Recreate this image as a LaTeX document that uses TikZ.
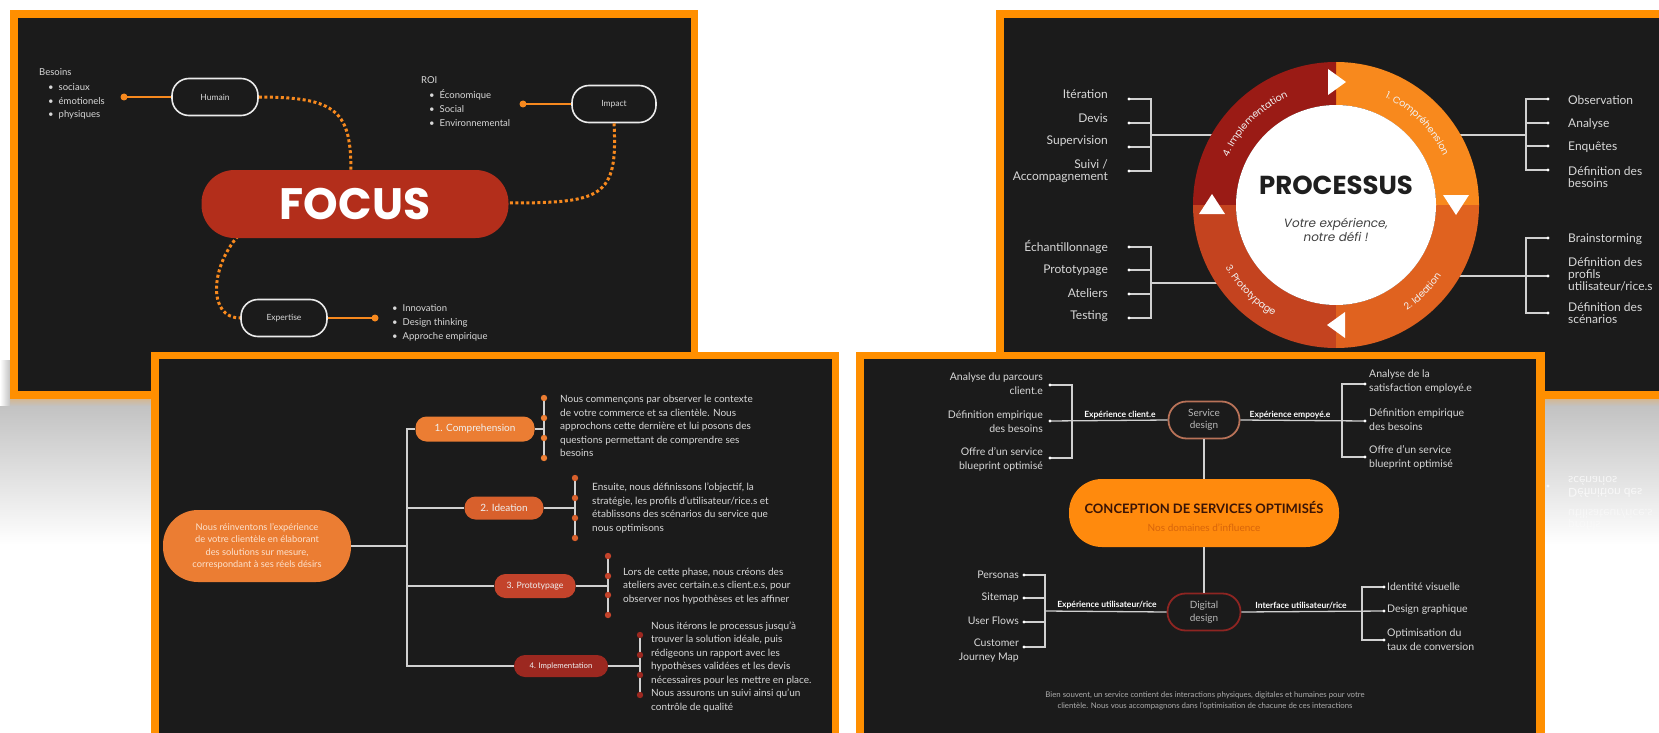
\documentclass[tikz,border=0pt]{standalone}
\usepackage{fontspec}
\setmainfont{Lato}
\newfontfamily\popfont{Poppins}
\usetikzlibrary{decorations.text}

\definecolor{bord}{HTML}{FF8F00}
\definecolor{panel}{HTML}{1B1B1B}
\definecolor{txt}{HTML}{D8D8D8}
\definecolor{lineg}{HTML}{D0D0D0}
\definecolor{orng}{HTML}{F7891E}
\definecolor{focusred}{HTML}{B32E1B}
\definecolor{qone}{HTML}{F8891D}
\definecolor{qtwo}{HTML}{E0621F}
\definecolor{qthree}{HTML}{C4431F}
\definecolor{qfour}{HTML}{9A1B15}
\definecolor{pcomp}{HTML}{EB7D33}
\definecolor{pidea}{HTML}{D8602C}
\definecolor{pproto}{HTML}{C3432B}
\definecolor{pimpl}{HTML}{9C2820}
\definecolor{peach}{HTML}{FCE2CE}
\definecolor{conc}{HTML}{FF8A0D}
\definecolor{concdark}{HTML}{3A1406}
\definecolor{concsub}{HTML}{D8650A}
\definecolor{sdline}{HTML}{B87258}
\definecolor{ddline}{HTML}{8E2522}
\definecolor{gshade}{HTML}{C2C2C2}
\definecolor{tanshade}{HTML}{D4B792}

\tikzset{
  wl/.style={draw=lineg, line width=1.3pt},
  wlthick/.style={draw=lineg, line width=1.8pt},
  olink/.style={draw=orng, line width=1.3pt},
  dotc/.style={draw=orng, line width=3pt, dash pattern=on 3pt off 2.5pt},
  lt/.style={text=txt, inner sep=0pt, font=\fontsize{9.5}{11}\selectfont},
  p1box/.style={draw=white!92!black, line width=1.6pt, fill=panel, rounded corners=17pt,
    minimum height=37pt, text=txt, font=\fontsize{8.5}{10}\selectfont},
  focusbox/.style={fill=focusred, rounded corners=33pt, minimum width=307pt, minimum height=68pt,
    text=white, inner sep=0pt, font=\popfont\bfseries\fontsize{44}{44}\selectfont},
  ltwo/.style={text=txt, inner sep=0pt, font=\fontsize{12}{12}\selectfont},
  p3main/.style={fill=pcomp, rounded corners=35pt, minimum width=188pt, minimum height=72pt,
    text=peach, align=center, inner sep=0pt, font=\fontsize{9.3}{12.5}\selectfont},
  p3node/.style={rounded corners=11pt, text=white!94!black, inner sep=0pt, font=\fontsize{10}{11}\selectfont},
  p3txt/.style={text=txt, align=left, inner sep=0pt, font=\fontsize{10}{13.5}\selectfont},
  lfour/.style={text=txt, inner sep=0pt, font=\fontsize{10.5}{14}\selectfont},
  bfour/.style={text=white, inner sep=1pt, font=\bfseries\fontsize{8.5}{10}\selectfont},
  dnode/.style={line width=1.8pt, fill=panel, rounded corners=18pt, text=white!72!black,
    align=center, inner sep=0pt, font=\fontsize{10}{12.5}\selectfont},
  refl/.style={text=white, opacity=0.7, yscale=-1, anchor=west, inner sep=0pt,
    font=\fontsize{12}{12}\selectfont},
  ringtxt/.style={decorate, decoration={text along path, text align=center, text color=white!95!black,
    text={|\popfont\fontsize{9.5}{11}\selectfont|#1}}}
}

\begin{document}
\begin{tikzpicture}[x=1pt, y=-1pt]
\useasboundingbox (0,0) rectangle (1659,733);
\clip (0,0) rectangle (1659,733);
\fill[white] (0,0) rectangle (1659,733);

% soft grey reflections under the two upper boards
\shade[top color=gshade, bottom color=white] (0,405) rectangle (698,545);
\shade[top color=gshade, bottom color=white] (996,405) rectangle (1659,545);
\shade[top color=tanshade, bottom color=gshade] (10,399) rectangle (698,406);
\shade[top color=tanshade, bottom color=gshade] (996,399) rectangle (1659,406);
\shade[left color=white, right color=gshade] (0,360) rectangle (10,405);

% ================= board 1 : FOCUS =================
\fill[bord] (10,10) rectangle (698,399);
\fill[panel] (18,18) rectangle (691,391);

\node[p1box, minimum width=86pt] (hum) at (215,97) {Humain};
\node[p1box, minimum width=84pt] (imp) at (614,104) {Impact};
\node[p1box, minimum width=86pt] (exp) at (284,318) {Expertise};

\coordinate (focusT) at (351,172);
\coordinate (focusR) at (507,203);
\coordinate (focusBL) at (238,236);
\draw[dotc] (hum.east) .. controls (338,97) and (351,112) .. (focusT);
\draw[dotc] (imp.south) .. controls (618,198) and (602,203) .. (focusR);
\draw[dotc] (focusBL) .. controls (210,268) and (208,318) .. (exp.west);

\node[focusbox] (focus) at (355,204) {FOCUS};

\node[lt, anchor=west] (besT) at (39,72) {Besoins};
\node[lt, anchor=west] (bes1) at (48,87) {\textbullet\hspace{5pt}sociaux};
\node[lt, anchor=west] (bes2) at (48,101) {\textbullet\hspace{5pt}émotionels};
\node[lt, anchor=west] (bes3) at (48,115) {\textbullet\hspace{5pt}physiques};
\coordinate (humDot) at (124,97);
\draw[olink] (humDot) -- (hum.west);
\fill[orng] (humDot) circle (3.5);

\node[lt, anchor=west] (roiT) at (421,80) {ROI};
\node[lt, anchor=west] (roi1) at (429,95) {\textbullet\hspace{5pt}Économique};
\node[lt, anchor=west] (roi2) at (429,109) {\textbullet\hspace{5pt}Social};
\node[lt, anchor=west] (roi3) at (429,123) {\textbullet\hspace{5pt}Environnemental};
\coordinate (impDot) at (523,104);
\draw[olink] (impDot) -- (imp.west);
\fill[orng] (impDot) circle (3.5);

\node[lt, anchor=west] (exp1) at (392,308) {\textbullet\hspace{5pt}Innovation};
\node[lt, anchor=west] (exp2) at (392,323) {\textbullet\hspace{5pt}Design thinking};
\node[lt, anchor=west] (exp3) at (392,337) {\textbullet\hspace{5pt}Approche empirique};
\coordinate (expDot) at (375,318);
\draw[olink] (exp.east) -- (expDot);
\fill[orng] (expDot) circle (3.5);

% ================= board 2 : PROCESSUS =================
\fill[bord] (996,10) rectangle (1670,399);
\fill[panel] (1004,18) rectangle (1670,391);

% connectors from the ring to the four brackets
\coordinate (ltr) at (1213,135);  \coordinate (ltj) at (1151,135);
\coordinate (rtr) at (1459,135);  \coordinate (rtj) at (1526,135);
\coordinate (lbr) at (1217,283);  \coordinate (lbj) at (1151,283);
\coordinate (rbr) at (1459,276);  \coordinate (rbj) at (1526,276);
\coordinate (lt1) at (1129,99);  \coordinate (lt2) at (1129,123);
\coordinate (lt3) at (1129,147); \coordinate (lt4) at (1129,171);
\coordinate (rt1) at (1548,99);  \coordinate (rt2) at (1548,123);
\coordinate (rt3) at (1548,146); \coordinate (rt4) at (1548,170);
\coordinate (lb1) at (1129,247); \coordinate (lb2) at (1129,270);
\coordinate (lb3) at (1129,294); \coordinate (lb4) at (1129,318);
\coordinate (rb1) at (1548,238); \coordinate (rb2) at (1548,276);
\coordinate (rb3) at (1548,313);

\draw[wl] (ltr) -- (ltj);
\draw[wl] (rtr) -- (rtj);
\draw[wl] (lbr) -- (lbj);
\draw[wl] (rbr) -- (rb2);
\foreach \p in {lt1,lt2,lt3,lt4} {\draw[wl] (\p) -| (ltj); \fill[white] (\p) circle (1.6);}
\foreach \p in {rt1,rt2,rt3,rt4} {\draw[wl] (\p) -| (rtj); \fill[white] (\p) circle (1.6);}
\foreach \p in {lb1,lb2,lb3,lb4} {\draw[wl] (\p) -| (lbj); \fill[white] (\p) circle (1.6);}
\foreach \p in {rb1,rb3} {\draw[wl] (\p) -| (rbj);}
\foreach \p in {rb1,rb2,rb3} {\fill[white] (\p) circle (1.6);}

\begin{scope}[shift={(1336,205)}, y=1pt]
  \fill[qone]   (0:143) arc[start angle=0, end angle=90, radius=143] -- (90:100) arc[start angle=90, end angle=0, radius=100] -- cycle;
  \fill[qfour]  (90:143) arc[start angle=90, end angle=180, radius=143] -- (180:100) arc[start angle=180, end angle=90, radius=100] -- cycle;
  \fill[qthree] (180:143) arc[start angle=180, end angle=270, radius=143] -- (270:100) arc[start angle=270, end angle=180, radius=100] -- cycle;
  \fill[qtwo]   (270:143) arc[start angle=270, end angle=360, radius=143] -- (0:100) arc[start angle=360, end angle=270, radius=100] -- cycle;
  \fill[white] (0,0) circle (100);
  % direction arrows between the phases
  \fill[white] (-8,136) -- (-8,110) -- (10,123) -- cycle;
  \fill[white] (107,10) -- (133,10) -- (120,-10) -- cycle;
  \fill[white] (9,-107) -- (9,-133) -- (-9,-120) -- cycle;
  \fill[white] (-137,-9) -- (-111,-9) -- (-124,11) -- cycle;
  % phase names along the ring
  \path[ringtxt={1. Compréhension}] (85:118) arc[start angle=85, end angle=5, radius=118];
  \path[ringtxt={2. Ideation}] (-85:127) arc[start angle=-85, end angle=-5, radius=127];
  \path[ringtxt={3. Prototypage}] (185:127) arc[start angle=185, end angle=265, radius=127];
  \path[ringtxt={4. Implementation}] (175:118) arc[start angle=175, end angle=95, radius=118];
  \node[font=\popfont\bfseries\fontsize{26}{30}\selectfont, text=black!88] (proc) at (0,20) {PROCESSUS};
  \node[font=\popfont\itshape\fontsize{12}{13.5}\selectfont, text=black!75, align=center] (motto) at (0,-25) {Votre expérience,\\notre défi !};
\end{scope}

\node[ltwo, anchor=east] (it) at (1108,94) {Itération};
\node[ltwo, anchor=east] (dv) at (1108,118) {Devis};
\node[ltwo, anchor=east] (sv) at (1108,141) {Supervision};
\node[ltwo, anchor=east, align=right] (su) at (1108,171) {Suivi /\\Accompagnement};
\node[ltwo, anchor=west] (ob) at (1568,100) {Observation};
\node[ltwo, anchor=west] (an) at (1568,124) {Analyse};
\node[ltwo, anchor=west] (en) at (1568,147) {Enquêtes};
\node[ltwo, anchor=west, align=left] (db) at (1568,177) {Définition des\\besoins};
\node[ltwo, anchor=east] (ec) at (1108,247) {Échantillonnage};
\node[ltwo, anchor=east] (pr) at (1108,270) {Prototypage};
\node[ltwo, anchor=east] (at) at (1108,293) {Ateliers};
\node[ltwo, anchor=east] (te) at (1108,316) {Testing};
\node[ltwo, anchor=west] (br) at (1568,239) {Brainstorming};
\node[ltwo, anchor=west, align=left] (dp) at (1568,274) {Définition des\\profils\\utilisateur/rice.s};
\node[ltwo, anchor=west, align=left] (ds) at (1568,313) {Définition des\\scénarios};

% faint mirrored lines below board 2
\node[refl] (rf1) at (1568,481) {scénarios};
\node[refl] (rf2) at (1568,493) {Définition des};
\node[refl, opacity=0.45] (rf3) at (1568,514) {utilisateur/rice.s};
\node[refl, opacity=0.3] (rf4) at (1568,525) {profils};
\fill[white, opacity=0.7] (1548,486) circle (1.6);

% ================= board 3 : approach =================
\fill[bord] (151,352) rectangle (839,745);
\fill[panel] (159,359) rectangle (832,745);

\node[p3main] (intro) at (257,546) {Nous réinventons l'expérience\\de votre clientèle en élaborant\\des solutions sur mesure,\\correspondant à ses réels désirs};
\node[p3node, fill=pcomp, minimum width=119pt, minimum height=25pt] (n1) at (475,429) {1. Comprehension};
\node[p3node, fill=pidea, minimum width=79pt, minimum height=23pt] (n2) at (504,508) {2. Ideation};
\node[p3node, fill=pproto, minimum width=81pt, minimum height=24pt, font=\fontsize{8.7}{10}\selectfont] (n3) at (535,586) {3. Prototypage};
\node[p3node, fill=pimpl, minimum width=94pt, minimum height=22pt, font=\fontsize{7.8}{9}\selectfont] (n4) at (561,666) {4. Implementation};

\coordinate (trunk) at (407,546);
\draw[wlthick] (intro.east) -- (trunk);
\foreach \n in {n1,n2,n3,n4} \draw[wlthick] (\n.west) -| (trunk);

\coordinate (v1t) at (544,398); \coordinate (v1b) at (544,458);
\coordinate (v2t) at (575,478); \coordinate (v2b) at (575,538);
\coordinate (v3t) at (608,556); \coordinate (v3b) at (608,615);
\coordinate (v4t) at (640,635); \coordinate (v4b) at (640,695);
\draw[wlthick] (v1t) -- (v1b); \draw[wlthick] (n1.east) -- (n1.east -| v1t);
\draw[wlthick] (v2t) -- (v2b); \draw[wlthick] (n2.east) -- (n2.east -| v2t);
\draw[wlthick] (v3t) -- (v3b); \draw[wlthick] (n3.east) -- (n3.east -| v3t);
\draw[wlthick] (v4t) -- (v4b); \draw[wlthick] (n4.east) -- (n4.east -| v4t);
\foreach \yy in {398,418,438,458} \fill[pcomp] (544,\yy) circle (3.2);
\foreach \yy in {478,498,518,538} \fill[pidea] (575,\yy) circle (3.2);
\foreach \yy in {556,576,595,615} \fill[pproto] (608,\yy) circle (3.2);
\foreach \yy in {635,655,675,695} \fill[pimpl] (640,\yy) circle (3.2);

\node[p3txt, anchor=west] (t1) at (560,426) {Nous commençons par observer le contexte\\de votre commerce et sa clientèle. Nous\\approchons cette dernière et lui posons des\\questions permettant de comprendre ses\\besoins};
\node[p3txt, anchor=west] (t2) at (592,508) {Ensuite, nous définissons l'objectif, la\\stratégie, les profils d'utilisateur/rice.s et\\établissons des scénarios du service que\\nous optimisons};
\node[p3txt, anchor=west] (t3) at (623,586) {Lors de cette phase, nous créons des\\ateliers avec certain.e.s client.e.s, pour\\observer nos hypothèses et les affiner};
\node[p3txt, anchor=west] (t4) at (651,667) {Nous itérons le processus jusqu'à\\trouver la solution idéale, puis\\rédigeons un rapport avec les\\hypothèses validées et les devis\\nécessaires pour les mettre en place.\\Nous assurons un suivi ainsi qu'un\\contrôle de qualité};

% ================= board 4 : service design =================
\fill[bord] (856,352) rectangle (1545,745);
\fill[panel] (864,359) rectangle (1536,745);

\node[dnode, draw=sdline, minimum width=71pt, minimum height=37pt] (sd) at (1204,420) {Service\\design};
\node[dnode, draw=ddline, minimum width=73pt, minimum height=37pt] (dd) at (1204,612) {Digital\\design};
\node[fill=conc, rounded corners=33pt, minimum width=270pt, minimum height=68pt] (conc) at (1204,513) {};
\node[inner sep=0pt, text=concdark, font=\bfseries\fontsize{13}{15}\selectfont] (concT) at (1204,507) {CONCEPTION DE SERVICES OPTIMISÉS};
\node[inner sep=0pt, text=concsub, font=\fontsize{10}{12}\selectfont] (concS) at (1204,528) {Nos domaines d'influence};

\draw[wl] (sd.south) -- (conc.north);
\draw[wl] (conc.south) -- (dd.north);

% service design branches
\coordinate (sdl) at (1072,421);
\coordinate (sdl1) at (1050,385); \coordinate (sdl2) at (1050,421); \coordinate (sdl3) at (1050,458);
\draw[wl] (sd.west) -- (sdl2);
\draw[wl] (sdl1) -| (sdl); \draw[wl] (sdl3) -| (sdl);
\foreach \p in {sdl1,sdl2,sdl3} \fill[white] (\p) circle (1.6);
\node[bfour, anchor=south] (ecl) at (1120,420) {Expérience client.e};
\node[lfour, anchor=east, align=right] (sl1) at (1043,384) {Analyse du parcours\\client.e};
\node[lfour, anchor=east, align=right] (sl2) at (1043,422) {Définition empirique\\des besoins};
\node[lfour, anchor=east, align=right] (sl3) at (1043,459) {Offre d'un service\\blueprint optimisé};

\coordinate (sdr) at (1342,421);
\coordinate (sdr1) at (1365,384); \coordinate (sdr2) at (1365,421); \coordinate (sdr3) at (1365,457);
\draw[wl] (sd.east) -- (sdr2);
\draw[wl] (sdr1) -| (sdr); \draw[wl] (sdr3) -| (sdr);
\foreach \p in {sdr1,sdr2,sdr3} \fill[white] (\p) circle (1.6);
\node[bfour, anchor=south] (eem) at (1290,420) {Expérience empoyé.e};
\node[lfour, anchor=west, align=left] (sr1) at (1369,382) {Analyse de la\\satisfaction employé.e};
\node[lfour, anchor=west, align=left] (sr2) at (1369,420) {Définition empirique\\des besoins};
\node[lfour, anchor=west, align=left] (sr3) at (1369,457) {Offre d'un service\\blueprint optimisé};

% digital design branches
\coordinate (ddl) at (1045,611);
\coordinate (ddl1) at (1024,575); \coordinate (ddl2) at (1024,598);
\coordinate (ddl3) at (1024,622); \coordinate (ddl4) at (1024,647);
\draw[wl] (dd.west) -- (ddl);
\foreach \p in {ddl1,ddl2,ddl3,ddl4} {\draw[wl] (\p) -| (ddl); \fill[white] (\p) circle (1.6);}
\node[bfour, anchor=south] (eut) at (1107,610) {Expérience utilisateur/rice};
\node[lfour, anchor=east] (dl1) at (1019,575) {Personas};
\node[lfour, anchor=east] (dl2) at (1019,598) {Sitemap};
\node[lfour, anchor=east] (dl3) at (1019,621) {User Flows};
\node[lfour, anchor=east, align=right] (dl4) at (1019,651) {Customer\\Journey Map};

\coordinate (ddr) at (1362,611);
\coordinate (ddr1) at (1384,587); \coordinate (ddr2) at (1384,611); \coordinate (ddr3) at (1384,640);
\draw[wl] (dd.east) -- (ddr2);
\draw[wl] (ddr1) -| (ddr); \draw[wl] (ddr3) -| (ddr);
\foreach \p in {ddr1,ddr2,ddr3} \fill[white] (\p) circle (1.6);
\node[bfour, anchor=south] (iut) at (1301,610) {Interface utilisateur/rice};
\node[lfour, anchor=west] (dr1) at (1387,587) {Identité visuelle};
\node[lfour, anchor=west] (dr2) at (1387,610) {Design graphique};
\node[lfour, anchor=west, align=left] (dr3) at (1387,640) {Optimisation du\\taux de conversion};

\node[text=white!68!black, align=center, inner sep=0pt, font=\fontsize{7.8}{11}\selectfont] (note) at (1205,701)
  {Bien souvent, un service contient des interactions physiques, digitales et humaines pour votre\\clientèle. Nous vous accompagnons dans l'optimisation de chacune de ces interactions};
\end{tikzpicture}
\end{document}
